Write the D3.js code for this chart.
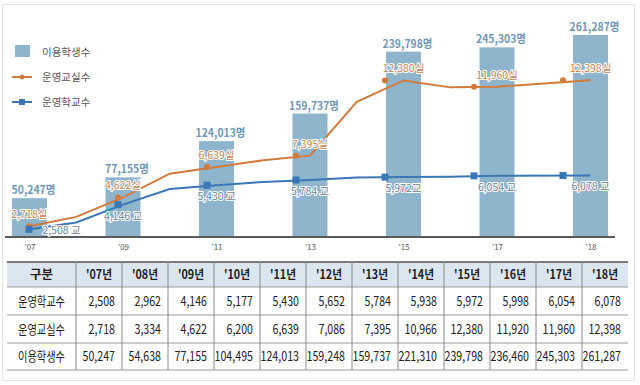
<!DOCTYPE html>
<html><head><meta charset="utf-8">
<script src="https://cdn.jsdelivr.net/npm/d3@7/dist/d3.min.js"></script>
<style>
html,body{margin:0;padding:0;background:#fff;}
svg{display:block;}
text{font-family:"Noto Sans CJK KR","Noto Sans",sans-serif;}
</style></head>
<body><svg id="c" width="640" height="385"></svg>
<script>
// ---------- data ----------
const years = ["'07","'08","'09","'10","'11","'12","'13","'14","'15","'16","'17","'18"];
const barYears = ["'07","'09","'11","'13","'15","'17","'18"];
const schools = [2508,2962,4146,5177,5430,5652,5784,5938,5972,5998,6054,6078];
const classrooms = [2718,3334,4622,6200,6639,7086,7395,10966,12380,11920,11960,12398];
const students = [50247,54638,77155,104495,124013,159248,159737,221310,239798,236460,245303,261287];
const seriesNames = ["이용학생수","운영교실수","운영학교수"];
const rowNames = ["운영학교수","운영교실수","이용학생수"];

// ---------- setup ----------
const svg = d3.select("#c");
const fmt = d3.format(",");
const colBar = "#8fb5cd", colOrange = "#d27a3c", colBlue = "#3a78b5";
// approximate width of a formatted number string (condensed look)
const numW = (s, dw, cw) => s.replace(/[^0-9]/g,"").length*dw + (s.match(/,/g)||[]).length*cw;

svg.append("rect").attr("x",2.5).attr("y",4.5).attr("width",632).attr("height",376)
  .attr("fill","none").attr("stroke","#e4e4e4");

const baseY = 237;
const x = d3.scalePoint().domain(barYears).range([29.5, 590.5]);
const xMark = d3.scalePoint().domain(barYears).range([29, 563]);
const y = d3.scaleLinear().domain([0, 261287]).range([baseY, 35]);
const y2 = d3.scaleLinear().domain([2000, 14000]).range([baseY, 56]);

function slotX(yr){
  if (barYears.includes(yr)) return x(yr);
  const i = years.indexOf(yr);
  return (x(years[i-1]) + x(years[i+1]))/2;
}

// ---------- bars ----------
const barData = barYears.map(yr => ({yr, v: students[years.indexOf(yr)]}));
const bw = 35;
svg.append("g").selectAll("rect").data(barData).join("rect")
  .attr("x", d => x(d.yr) - bw/2).attr("width", bw)
  .attr("y", d => y(d.v)).attr("height", d => baseY - y(d.v))
  .attr("fill", colBar);
svg.append("g").selectAll("text").data(barData).join("text")
  .attr("x", d => x(d.yr) + 4).attr("y", d => y(d.v) - 4)
  .attr("text-anchor","middle").attr("font-size",11.5).attr("font-weight","bold")
  .attr("fill","#6f98b6")
  .attr("textLength", d => numW(fmt(d.v),6,2.8) + 11).attr("lengthAdjust","spacingAndGlyphs")
  .text(d => fmt(d.v) + "명");

// ---------- axis ----------
const xAxis = d3.axisBottom(x).tickSize(0).tickPadding(7);
const ag = svg.append("g").attr("transform",`translate(0,${baseY})`).call(xAxis);
ag.select(".domain").remove();
ag.selectAll("text").attr("font-size",8).attr("fill","#555").attr("font-family","'Noto Sans',sans-serif");
svg.append("line").attr("x1",5).attr("x2",615).attr("y1",baseY).attr("y2",baseY)
  .attr("stroke","#5a5a5a").attr("stroke-width",2);

// ---------- lines ----------
const line = d3.line().x(d => slotX(d.yr)).y(d => y2(d.v));
const oData = years.map((yr,i) => ({yr, v: classrooms[i]}));
const bData = years.map((yr,i) => ({yr, v: schools[i]}));
svg.append("path").datum(oData).attr("d", line).attr("fill","none")
  .attr("stroke", colOrange).attr("stroke-width",2);
svg.append("path").datum(bData).attr("d", line).attr("fill","none")
  .attr("stroke", colBlue).attr("stroke-width",2);

const oMarks = barYears.map(yr => ({yr, v: classrooms[years.indexOf(yr)]}));
const bMarks = barYears.map(yr => ({yr, v: schools[years.indexOf(yr)]}));
svg.append("g").selectAll("circle").data(oMarks).join("circle")
  .attr("cx", d => xMark(d.yr)).attr("cy", d => y2(d.v)).attr("r",3).attr("fill",colOrange);
svg.append("g").selectAll("rect").data(bMarks).join("rect")
  .attr("x", d => xMark(d.yr)-3.5).attr("y", d => y2(d.v)-3.5).attr("width",7).attr("height",7).attr("fill",colBlue);

// value labels
svg.append("g").selectAll("text").data(oMarks).join("text")
  .attr("x", d => x(d.yr)).attr("y", d => y2(d.v) - 8)
  .attr("text-anchor","middle").attr("font-size",10.5)
  .attr("fill","#c4864f").attr("stroke","#fff").attr("stroke-width",2).attr("paint-order","stroke")
  .text(d => fmt(d.v) + "실");
svg.append("g").selectAll("text").data(bMarks).join("text")
  .attr("x", (d,i) => x(d.yr) + (i === 0 ? 32 : 0)).attr("y", (d,i) => y2(d.v) + (i === 0 ? 5 : 15))
  .attr("text-anchor","middle").attr("font-size",10.5)
  .attr("fill","#6c8298").attr("stroke","#fff").attr("stroke-width",2).attr("paint-order","stroke")
  .text(d => fmt(d.v) + (d.v === 5972 ? "교" : " 교"));

// ---------- legend ----------
const lg = svg.append("g").attr("transform","translate(12,0)");
lg.append("rect").attr("x",3).attr("y",45).attr("width",15).attr("height",12).attr("fill",colBar);
[[colOrange,"circle",77],[colBlue,"rect",102]].forEach(([c,shape,yy]) => {
  lg.append("line").attr("x1",0).attr("x2",20).attr("y1",yy).attr("y2",yy).attr("stroke",c).attr("stroke-width",2);
  if (shape === "circle") lg.append("circle").attr("cx",10).attr("cy",yy).attr("r",2.5).attr("fill",c);
  else lg.append("rect").attr("x",7).attr("y",yy-3).attr("width",6).attr("height",6).attr("fill",c);
});
lg.selectAll("text.lt").data(seriesNames).join("text").attr("class","lt")
  .attr("x",30).attr("y",(d,i) => [52,77,102][i] + 4)
  .attr("font-size",10.5).attr("fill","#555").text(d => d);

// ---------- table ----------
const tx0 = 7, tx1 = 76, tRight = 628;
const colX = d3.scaleBand().domain(years).range([tx1, tRight]);
const rowTops = [262, 287, 315, 343, 370];
const tg = svg.append("g");
tg.append("rect").attr("x",tx0).attr("y",rowTops[0]).attr("width",tRight-tx0).attr("height",rowTops[1]-rowTops[0]).attr("fill","#dce6f1");
rowTops.forEach((ry,i) => {
  tg.append("line").attr("x1",tx0).attr("x2",tRight).attr("y1",ry).attr("y2",ry)
    .attr("stroke", i === 0 ? "#555" : "#999").attr("stroke-width", i === 0 ? 1.5 : 1);
});
[tx1, ...years.slice(1).map(yr => colX(yr))].forEach(cx => {
  tg.append("line").attr("x1",cx).attr("x2",cx).attr("y1",rowTops[0]).attr("y2",rowTops[4])
    .attr("stroke","#888").attr("stroke-width",1);
});
tg.append("text").attr("x",(tx0+tx1)/2).attr("y",279).attr("text-anchor","middle")
  .attr("font-size",12.5).attr("font-weight","bold").attr("fill","#222").text("구분");
tg.selectAll("text.h").data(years).join("text").attr("class","h")
  .attr("x", d => colX(d) + colX.bandwidth()/2).attr("y",279).attr("text-anchor","middle")
  .attr("font-size",12.5).attr("font-weight","bold").attr("fill","#222")
  .attr("textLength",26).attr("lengthAdjust","spacingAndGlyphs").text(d => d + "년");
const rowsData = [schools, classrooms, students];
rowsData.forEach((arr, r) => {
  const cy = (rowTops[r+1] + rowTops[r+2]) / 2 + 4.5;
  tg.append("text").attr("x",(tx0+tx1)/2).attr("y",cy).attr("text-anchor","middle")
    .attr("font-size",13).attr("fill","#222").attr("textLength",47).attr("lengthAdjust","spacingAndGlyphs")
    .text(rowNames[r]);
  tg.selectAll("text.v"+r).data(arr).join("text").attr("class","v"+r)
    .attr("x",(d,i) => colX(years[i]) + colX.bandwidth() - 7).attr("y",cy)
    .attr("text-anchor","end").attr("font-size",13.5).attr("fill","#222")
    .attr("font-family","'Liberation Sans',sans-serif")
    .attr("textLength", d => numW(fmt(d),6,2.5)).attr("lengthAdjust","spacingAndGlyphs")
    .text(d => fmt(d));
});
</script></body></html>
